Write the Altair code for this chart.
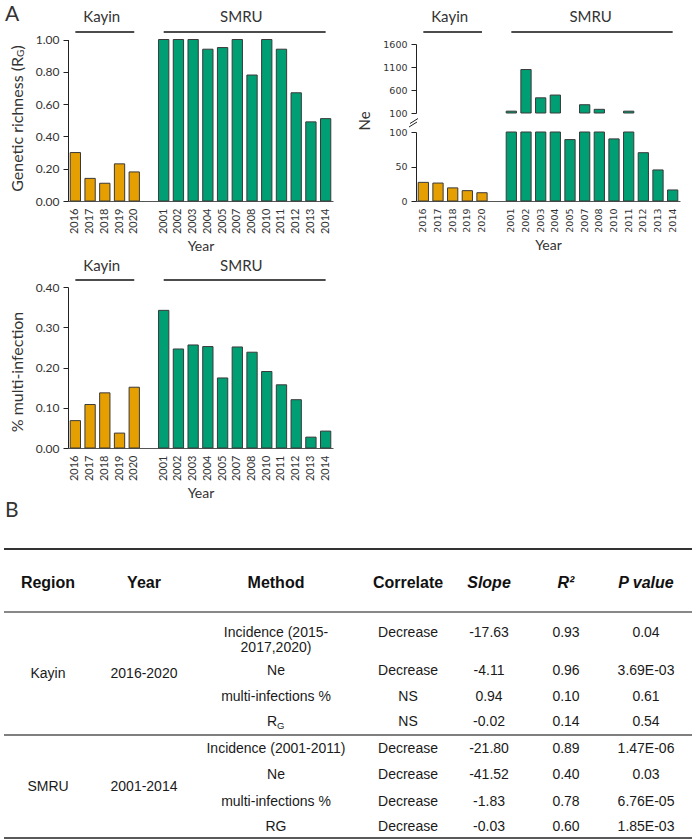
import altair as alt
import pandas as pd

# ---------------- data ----------------
kayin_years = ["2016", "2017", "2018", "2019", "2020"]
smru_years = ["2001", "2002", "2003", "2004", "2005", "2007", "2008",
              "2010", "2011", "2012", "2013", "2014"]

rg_kayin = [0.30, 0.14, 0.11, 0.23, 0.18]
rg_smru = [1.00, 1.00, 1.00, 0.94, 0.95, 1.00, 0.78, 1.00, 0.94, 0.67, 0.49, 0.51]

ne_kayin = [27, 26, 19, 15, 12]
ne_smru = [140, 1045, 430, 490, 89, 280, 180, 90, 140, 70, 45, 16]

mi_kayin = [0.068, 0.108, 0.137, 0.037, 0.151]
mi_smru = [0.342, 0.246, 0.256, 0.252, 0.174, 0.251, 0.238, 0.190, 0.157, 0.120, 0.027, 0.042]

sites = ["Kayin", "SMRU"]
site_colors = ["#E69F00", "#009E73"]

rg_ticks = [0, 0.2, 0.4, 0.6, 0.8, 1.0]
ne_low_ticks = [0, 50, 100]
ne_high_ticks = [100, 600, 1100, 1600]
mi_ticks = [0, 0.1, 0.2, 0.3, 0.4]

# table B
tbl_headers = ["Region", "Year", "Method", "Correlate", "Slope", "R²", "P value"]
tbl_region = ["Kayin", "SMRU"]
tbl_period = ["2016-2020", "2001-2014"]
tbl_method = ["Incidence (2015-\n2017,2020)", "Ne", "multi-infections %", "R",
              "Incidence (2001-2011)", "Ne", "multi-infections %", "RG"]
tbl_correlate = ["Decrease", "Decrease", "NS", "NS", "Decrease", "Decrease", "Decrease", "Decrease"]
tbl_slope = ["-17.63", "-4.11", "0.94", "-0.02", "-21.80", "-41.52", "-1.83", "-0.03"]
tbl_r2 = ["0.93", "0.96", "0.10", "0.14", "0.89", "0.40", "0.78", "0.60"]
tbl_p = ["0.04", "3.69E-03", "0.61", "0.54", "1.47E-06", "0.03", "6.76E-05", "1.85E-03"]

# ---------------- style ----------------
FONT = "Lato"
FONT2 = "DejaVu Sans"
TFONT = "Liberation Sans"
TXT = "#333333"
W, H = 692, 840
x_domain = kayin_years + [" "] + smru_years
BAR_STROKE = "#3a3a3a"

color = alt.Color("site:N", scale=alt.Scale(domain=sites, range=site_colors), legend=None)


def bar_df(kv, sv):
    return pd.DataFrame({
        "year": kayin_years + smru_years,
        "value": kv + sv,
        "site": [sites[0]] * len(kayin_years) + [sites[1]] * len(smru_years),
    })


def x_enc(x0, x1, axis_y, lab_font, lab_size):
    return alt.X(
        "year:N", sort=x_domain,
        scale=alt.Scale(domain=x_domain, range=[x0, x1], paddingInner=0.3, paddingOuter=0.15),
        axis=alt.Axis(orient="bottom", offset=axis_y - H, labelAngle=-90, ticks=False,
                      domainColor="#555555", domainWidth=1.2,
                      labelFont=lab_font, labelFontSize=lab_size, labelColor=TXT, labelPadding=7,
                      title="Year", titleFont=FONT, titleFontSize=14, titleFontWeight="normal",
                      titleColor=TXT, titlePadding=6, grid=False))


def y_axis(x_pos, values, fmt, lab_font, lab_size):
    return alt.Axis(orient="left", offset=-x_pos, values=values, format=fmt, tickSize=5,
                    tickColor="#222222", domainColor="#222222", labelFont=lab_font,
                    labelFontSize=lab_size, labelColor=TXT, labelPadding=4, title=None, grid=False)


def group_marks(line_y, text_y, k_dx, s_dx):
    out = []
    for yrs, name, mid, dx in [(kayin_years, sites[0], kayin_years[2], k_dx),
                               (smru_years, sites[1], smru_years[5], s_dx)]:
        d = pd.DataFrame({"site": [name]})
        out.append(alt.Chart(d).mark_rule(color="#111111", strokeWidth=1.5).encode(
            x=alt.datum(yrs[0]), x2=alt.datum(yrs[-1]), y=alt.value(line_y)))
        out.append(alt.Chart(d).mark_text(font=FONT, fontSize=15, color=TXT, dx=dx,
                                          baseline="middle").encode(
            x=alt.datum(mid), y=alt.value(text_y), text="site:N"))
    return out


def label(text, x, y, size, angle=0, align="center", font=FONT, weight="normal",
          color=TXT, style="normal"):
    return alt.Chart(pd.DataFrame({"t": [text]})).mark_text(
        font=font, fontSize=size, angle=angle, align=align, baseline="middle",
        fontWeight=weight, fontStyle=style, color=color).encode(
        x=alt.value(x), y=alt.value(y), text="t:N")


# ---------------- panel 1: genetic richness ----------------
p1_bars = alt.Chart(bar_df(rg_kayin, rg_smru)).mark_bar(stroke=BAR_STROKE, strokeWidth=1).encode(
    x=x_enc(68, 333, 201, FONT, 11),
    y=alt.Y("value:Q", scale=alt.Scale(domain=[0, 1], range=[201, 39.5], nice=False),
            axis=y_axis(68, rg_ticks, ".2f", FONT, 12)),
    color=color)
panel1 = alt.layer(p1_bars, *group_marks(32, 17, -3, 4))

# ---------------- panel 2: Ne (broken axis) ----------------
ne_df = bar_df(ne_kayin, ne_smru)
x2e = x_enc(416, 680, 201, FONT2, 9.5)
ne_low = alt.Chart(ne_df).transform_calculate(low="min(datum.value, 100)").mark_bar(
    stroke=BAR_STROKE, strokeWidth=1).encode(
    x=x2e,
    y=alt.Y("low:Q", scale=alt.Scale(domain=[0, 100], range=[201, 132], nice=False),
            axis=y_axis(416, ne_low_ticks, "d", FONT2, 9.5)),
    color=color)
ne_high = alt.Chart(ne_df).transform_filter("datum.value > 100").mark_bar(
    stroke=BAR_STROKE, strokeWidth=1).encode(
    x=x2e,
    y=alt.Y("value:Q", scale=alt.Scale(domain=[100, 1600], range=[113, 44], nice=False, zero=False),
            axis=y_axis(416, ne_high_ticks, "d", FONT2, 9.5)),
    y2=alt.datum(100),
    color=color)
ne_bars = alt.layer(ne_low, ne_high).resolve_scale(y="independent")
panel2 = alt.layer(ne_bars, *group_marks(32, 17, -3, 6))

# ---------------- panel 3: multi-infection ----------------
p3_bars = alt.Chart(bar_df(mi_kayin, mi_smru)).mark_bar(stroke=BAR_STROKE, strokeWidth=1).encode(
    x=x_enc(68, 333, 448, FONT, 11),
    y=alt.Y("value:Q", scale=alt.Scale(domain=[0, 0.4], range=[448, 287], nice=False),
            axis=y_axis(68, mi_ticks, ".2f", FONT, 12)),
    color=color)
panel3 = alt.layer(p3_bars, *group_marks(280, 266, -3, 4))

# ---------------- table ----------------
row_keys = [1, 2, 3, 4, 5, 6, 7, 8]
body = []
for i, r in enumerate(row_keys):
    for c, vals in [(2, tbl_method), (3, tbl_correlate), (4, tbl_slope), (5, tbl_r2), (6, tbl_p)]:
        body.append({"col": c, "row": r, "text": vals[i]})
for g, r in [(0, 2.5), (1, 6.5)]:
    body.append({"col": 0, "row": r, "text": tbl_region[g]})
    body.append({"col": 1, "row": r, "text": tbl_period[g]})
body_df = pd.DataFrame(body)
sub_df = pd.DataFrame({"col": [2], "row": [4], "text": ["G"]})
hdr_df = pd.DataFrame({"col": list(range(7)), "row": [0] * 7, "text": tbl_headers,
                       "ital": [False] * 4 + [True] * 3})
lines_df = pd.DataFrame({"row": [-1, 0.5, 4.5, 8.5], "w": ["a", "b", "c", "d"]})

tx = alt.X("col:Q", scale=alt.Scale(domain=[0, 1, 2, 3, 4, 5, 6],
                                    range=[48, 144, 276, 408, 489, 566, 646],
                                    nice=False, zero=False), axis=None)
ty_scale = alt.Scale(domain=[-1, 0, 0.5, 1, 2, 2.5, 3, 4, 4.5, 5, 6, 6.5, 7, 8, 8.5],
                     range=[549, 583, 612, 633, 671, 674, 697, 722, 735, 749, 775, 787, 802, 827, 838],
                     nice=False, zero=False)
ty = alt.Y("row:Q", scale=ty_scale, axis=None)

t_body_main = alt.Chart(body_df).transform_filter(
    "!(datum.col == 2 && datum.row == 4)").mark_text(
    font=TFONT, fontSize=14, color="#1a1a1a", lineBreak="\n", lineHeight=15,
    baseline="middle").encode(x=tx, y=ty, text="text:N")
t_r = alt.Chart(body_df).transform_filter("datum.col == 2 && datum.row == 4").mark_text(
    font=TFONT, fontSize=14, color="#1a1a1a", align="right", dx=1, baseline="middle").encode(
    x=tx, y=ty, text="text:N")
t_g = alt.Chart(sub_df).mark_text(
    font=TFONT, fontSize=9.5, color="#1a1a1a", align="left", dx=1, dy=4, baseline="middle").encode(
    x=tx, y=ty, text="text:N")
t_hdr = alt.Chart(hdr_df).transform_filter("!datum.ital").mark_text(
    font=TFONT, fontSize=16, fontWeight="bold", color="#111111", baseline="middle").encode(
    x=tx, y=ty, text="text:N")
t_hdr_i = alt.Chart(hdr_df).transform_filter("datum.ital").mark_text(
    font=TFONT, fontSize=16, fontWeight="bold", fontStyle="italic", color="#111111",
    baseline="middle").encode(x=tx, y=ty, text="text:N")
t_lines = alt.Chart(lines_df).mark_rule().encode(
    y=ty, x=alt.value(4), x2=alt.value(692),
    color=alt.Color("w:N", scale=alt.Scale(domain=["a", "b", "c", "d"],
                                           range=["#333333", "#888888", "#555555", "#222222"]),
                    legend=None),
    strokeWidth=alt.StrokeWidth("w:N", scale=alt.Scale(domain=["a", "b", "c", "d"],
                                                        range=[2, 1.5, 1.5, 3]), legend=None))
table = alt.layer(t_lines, t_body_main, t_r, t_g, t_hdr, t_hdr_i).resolve_scale(
    color="independent", strokeWidth="independent")

# ---------------- annotations ----------------
brk = pd.DataFrame({"k": ["a", "b"]})
break1 = alt.Chart(brk.iloc[[0]]).mark_rule(color="#222222", strokeWidth=1).encode(
    x=alt.value(409), y=alt.value(127), x2=alt.value(417), y2=alt.value(122))
break2 = alt.Chart(brk.iloc[[1]]).mark_rule(color="#222222", strokeWidth=1).encode(
    x=alt.value(410), y=alt.value(123.5), x2=alt.value(418), y2=alt.value(118.5))

annots = [
    label("A", 5, 15, 21, align="left"),
    label("B", 5, 511, 21, align="left"),
    label("Genetic richness (R", 18, 57, 16, angle=270, align="right"),
    label("G", 21, 57, 10, angle=270, align="left"),
    label(")", 18, 49.5, 16, angle=270, align="left"),
    label("% multi-infection", 18, 372, 16, angle=270),
    label("Ne", 365, 121, 15, angle=270),
    break1, break2,
]

chart = alt.layer(panel1, panel2, panel3, table, *annots).resolve_scale(
    x="independent", y="independent", color="independent", strokeWidth="independent"
).properties(
    width=W, height=H, autosize=alt.AutoSizeParams(type="none"), padding=0,
    background="white"
).configure_view(stroke=None)

chart.save("out.html", embed_options={"renderer": "svg", "actions": False})
